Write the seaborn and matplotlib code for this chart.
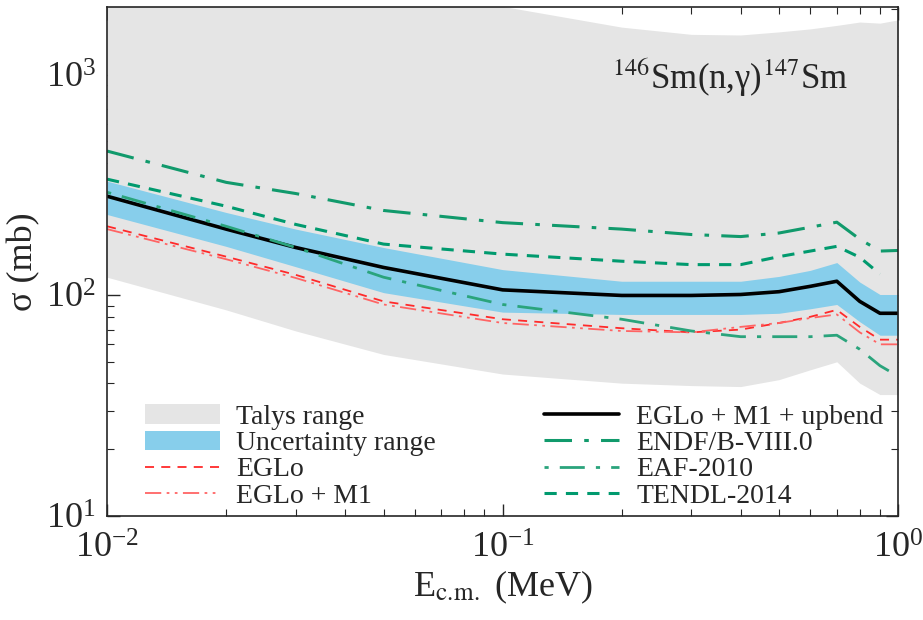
import numpy as np
import pandas as pd
import matplotlib
matplotlib.use("Agg")
import matplotlib.pyplot as plt
import seaborn as sns

# energy grid (MeV) and cross sections (mb)
energy = [0.01, 0.02, 0.03, 0.05, 0.1, 0.2, 0.3, 0.4, 0.5, 0.6, 0.7, 0.8, 0.9, 1.0]

talys_hi = [3000, 2800, 2600, 2300, 2050, 1650, 1530, 1520, 1570, 1620, 1680, 1740, 1720, 1780]
talys_lo = [121, 86, 69, 54, 44, 40, 39, 38.6, 41.5, 46, 50, 40, 35.5, 35.5]

unc_hi = [330, 238, 200, 165, 131, 116, 116, 116, 122, 130, 141, 115, 101, 101]
unc_lo = [233, 167, 135, 103, 84, 82, 82, 82, 83, 87, 91, 76, 66, 66]

upbend = [282, 200, 165, 134, 106, 100, 100, 101, 104, 110, 116, 94, 83, 83]
eglo = [206, 150, 124, 94, 78, 71, 68, 70, 75, 80, 86, 72, 63, 63]
eglo_m1 = [200, 146, 120, 91, 75, 69, 68, 72, 75, 79, 82, 68, 60, 60]
endf = [452, 326, 290, 243, 214, 200, 189, 185, 192, 204, 215, 180, 159, 160]
eaf = [294, 206, 165, 121, 91, 78, 69, 65, 65, 65, 66, 57, 48, 43]
tendl = [337, 254, 210, 171, 154, 143, 138, 138, 150, 159, 167, 149, 125, np.nan]

df = pd.DataFrame({"E": energy, "upbend": upbend, "eglo": eglo, "eglo_m1": eglo_m1,
                   "endf": endf, "eaf": eaf, "tendl": tendl})

sns.set_style("ticks")
plt.rcParams["font.family"] = ["Liberation Serif", "DejaVu Serif"]
plt.rcParams["mathtext.fontset"] = "stix"

fig, ax = plt.subplots(figsize=(9.23, 6.2), dpi=100)
fig.subplots_adjust(left=0.116, right=0.973, top=0.989, bottom=0.168)

ax.fill_between(energy, talys_lo, talys_hi, color="#e5e5e5", lw=0, label="Talys range")
ax.fill_between(energy, unc_lo, unc_hi, color="#87ceeb", lw=0, label="Uncertainty range")

sns.lineplot(data=df, x="E", y="eglo", ax=ax, color="#ff2a2a", lw=1.3,
             label="EGLo", linestyle=(0, (5, 4)))
sns.lineplot(data=df, x="E", y="eglo_m1", ax=ax, color="#ff6464", lw=1.3,
             label="EGLo + M1", linestyle=(0, (9, 3, 1.5, 3, 1.5, 3)))
sns.lineplot(data=df, x="E", y="upbend", ax=ax, color="black", lw=2.6,
             label="EGLo + M1 + upbend")
sns.lineplot(data=df, x="E", y="endf", ax=ax, color="#119a6c", lw=2.2,
             label="ENDF/B-VIII.0", linestyle=(0, (9, 4, 1.5, 4)))
sns.lineplot(data=df, x="E", y="eaf", ax=ax, color="#2aa47c", lw=2.0,
             label="EAF-2010", linestyle=(0, (1.5, 4, 9, 4)))
sns.lineplot(data=df, x="E", y="tendl", ax=ax, color="#009a6e", lw=2.2,
             label="TENDL-2014", linestyle=(0, (4, 3)))

ax.set_xscale("log")
ax.set_yscale("log")
ax.set_xlim(0.01, 1.0)
ax.set_ylim(10, 2040)

ax.tick_params(which="both", direction="in", top=True, right=True, labelsize=26)
ax.tick_params(axis="x", pad=12)
ax.tick_params(axis="y", pad=8)
ax.tick_params(which="major", length=9, width=1)
ax.tick_params(which="minor", length=5, width=0.8)
for s in ax.spines.values():
    s.set_linewidth(1.2)

ax.set_xlabel(r"E$_{\rm c.\!m.}$ (MeV)", fontsize=26, labelpad=2)
ax.set_ylabel("σ (mb)", fontsize=26, labelpad=4)

ax.text(0.788, 0.86, r"$^{146}$Sm(n,γ)$^{147}$Sm", transform=ax.transAxes,
        ha="center", va="center", fontsize=25)

ax.legend(ncol=2, loc="lower left", bbox_to_anchor=(0.016, -0.035), frameon=False,
          fontsize=20, handlelength=2.7, handletextpad=0.6, columnspacing=3.9,
          labelspacing=0.03)

fig.savefig("out.png", dpi=100)
